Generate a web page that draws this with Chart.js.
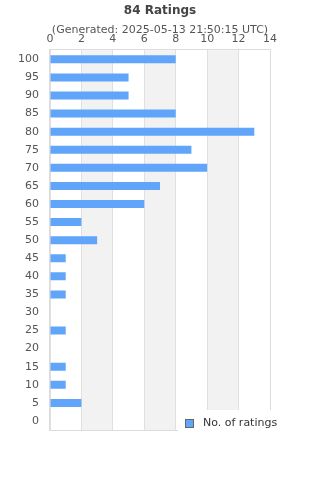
<!DOCTYPE html>
<html lang="en">
<head>
  <meta charset="utf-8" />
  <title>84 Ratings</title>
  <script src="https://cdn.jsdelivr.net/npm/chart.js@4.4.1/dist/chart.umd.min.js"></script>
  <style>
    body { margin: 0; background: #fff; }
    .chart-box { width: 320px; height: 480px; position: relative; }
  </style>
</head>
<body>
  <div class="chart-box">
    <canvas id="ratingsChart"></canvas>
  </div>
  <script>
    // data
    const ratingLabels = ['100', '95', '90', '85', '80', '75', '70', '65', '60', '55', '50',
      '45', '40', '35', '30', '25', '20', '15', '10', '5', '0'];
    const ratingCounts = [8, 5, 5, 8, 13, 9, 10, 7, 6, 2, 3, 1, 1, 1, 0, 1, 0, 1, 1, 2, 0];
    const seriesName = 'No. of ratings';
    const chartTitle = '84 Ratings';
    const chartSubtitle = '(Generated: 2025-05-13 21:50:15 UTC)';

    const barColor = '#60a5fa';
    const gridColor = '#e0e0e0';
    const bandColor = '#f2f2f2';
    const fontFamily = '"DejaVu Sans", sans-serif';

    // grey bands between every other x tick
    const bandsPlugin = {
      id: 'bands',
      beforeDraw(chart) {
        const ctx = chart.ctx;
        const area = chart.chartArea;
        const x = chart.scales.x;
        ctx.save();
        ctx.fillStyle = bandColor;
        for (let v = x.min; v < x.max; v += 2) {
          if ((v / 2) % 2 === 1) {
            const a = x.getPixelForValue(v);
            const b = x.getPixelForValue(v + 2);
            ctx.fillRect(a, area.top, b - a, area.bottom - area.top);
          }
        }
        ctx.restore();
      },
      // frame round the plot, on top of the bars
      afterDatasetsDraw(chart) {
        const ctx = chart.ctx;
        const area = chart.chartArea;
        ctx.save();
        ctx.strokeStyle = '#dcdcdc';
        ctx.lineWidth = 1;
        ctx.strokeRect(Math.round(area.left) - 0.5, Math.round(area.top) - 0.5,
          Math.round(area.right - area.left) + 1, Math.round(area.bottom - area.top) + 1);
        ctx.restore();
      }
    };

    // legend sits over the bottom right corner of the plot on a white box
    const legendBoxPlugin = {
      id: 'legendBox',
      afterDraw(chart) {
        const ctx = chart.ctx;
        ctx.save();
        ctx.fillStyle = '#fff';
        ctx.fillRect(178, 410, chart.width - 178, 30);
        ctx.fillStyle = barColor;
        ctx.fillRect(186, 420, 7, 7);
        ctx.strokeStyle = '#666';
        ctx.lineWidth = 1;
        ctx.strokeRect(185.5, 419.5, 8, 8);
        ctx.fillStyle = '#333';
        ctx.font = '11px ' + fontFamily;
        ctx.textBaseline = 'middle';
        ctx.fillText(chart.data.datasets[0].label, 203, 423);
        ctx.restore();
      }
    };

    const ctx = document.getElementById('ratingsChart').getContext('2d');
    const ratingsChart = new Chart(ctx, {
      type: 'bar',
      data: {
        labels: ratingLabels,
        datasets: [{
          label: seriesName,
          data: ratingCounts,
          backgroundColor: barColor,
          borderWidth: 0,
          inflateAmount: 0,
          barThickness: 8
        }]
      },
      options: {
        indexAxis: 'y',
        responsive: true,
        maintainAspectRatio: false,
        animation: false,
        layout: {
          padding: { left: 0, right: 0, top: 0, bottom: 50 }
        },
        plugins: {
          legend: { display: false },
          tooltip: { enabled: false },
          title: {
            display: true,
            text: chartTitle,
            color: '#444',
            font: { family: fontFamily, size: 12, weight: 'bold' },
            padding: { top: 3.5, bottom: 2 }
          },
          subtitle: {
            display: true,
            text: chartSubtitle,
            color: '#555',
            font: { family: fontFamily, size: 11 },
            padding: { top: 4, bottom: -10 }
          }
        },
        scales: {
          x: {
            position: 'top',
            min: 0,
            max: 14,
            ticks: {
              stepSize: 2,
              color: '#555',
              padding: 5,
              font: { family: fontFamily, size: 11 }
            },
            grid: { color: gridColor, drawTicks: false },
            border: { display: false }
          },
          y: {
            ticks: {
              color: '#555',
              padding: 11,
              font: { family: fontFamily, size: 11 }
            },
            grid: { display: false, drawTicks: false },
            border: { display: false },
            afterFit: function (scale) { scale.width = 50; }
          },
          // empty axis, only keeps a 50px margin on the right
          yRight: {
            type: 'linear',
            axis: 'y',
            position: 'right',
            ticks: { display: false },
            grid: { display: false, drawTicks: false },
            border: { display: false },
            afterFit: function (scale) { scale.width = 50; }
          }
        }
      },
      plugins: [bandsPlugin, legendBoxPlugin]
    });
  </script>
</body>
</html>
